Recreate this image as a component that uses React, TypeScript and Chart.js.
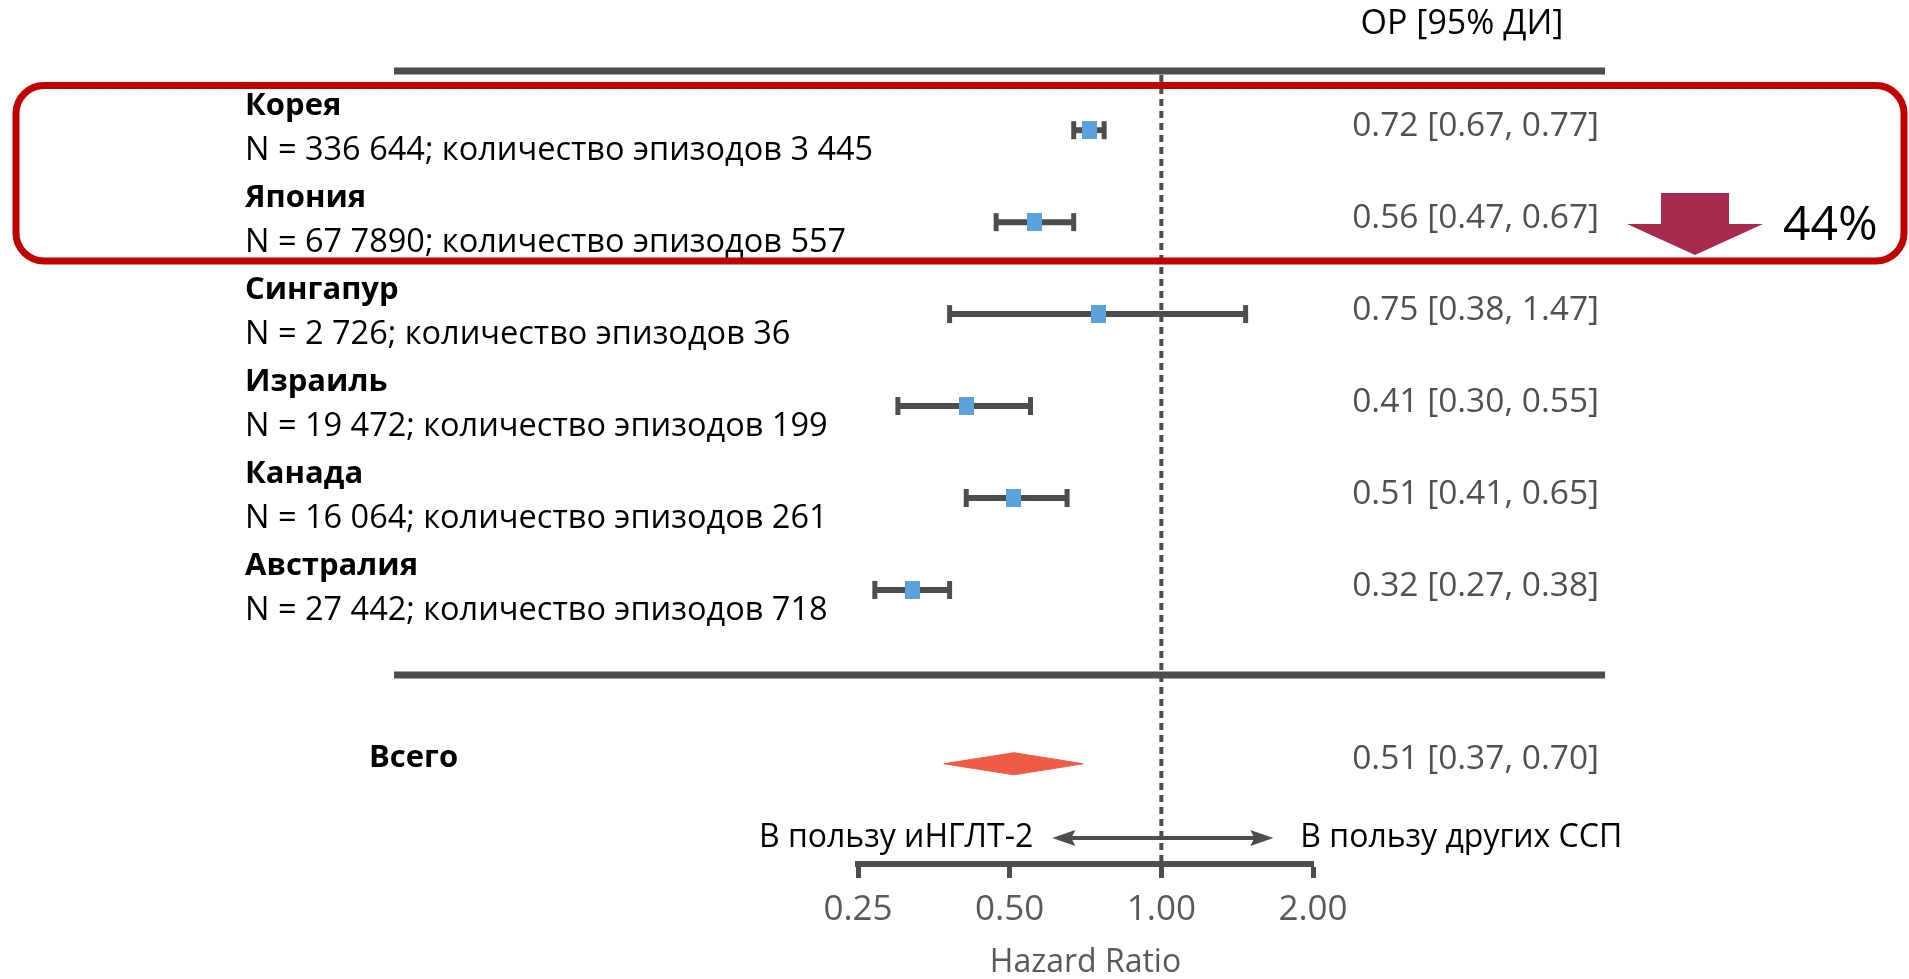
import React, { useEffect, useRef } from 'react';
import { Chart, registerables } from 'chart.js';

Chart.register(...registerables);

// ---- data ----
const countries = ['Корея', 'Япония', 'Сингапур', 'Израиль', 'Канада', 'Австралия'];
const subtitles = [
  'N = 336 644; количество эпизодов 3 445',
  'N = 67 7890; количество эпизодов 557',
  'N = 2 726; количество эпизодов 36',
  'N = 19 472; количество эпизодов 199',
  'N = 16 064; количество эпизодов 261',
  'N = 27 442; количество эпизодов 718',
];
const hr = [0.72, 0.56, 0.75, 0.41, 0.51, 0.32];
const lower = [0.67, 0.47, 0.38, 0.30, 0.41, 0.27];
const upper = [0.77, 0.67, 1.47, 0.55, 0.65, 0.38];
const rowPos = [0, 1, 2, 3, 4, 5];

const totalLabel = 'Всего';
const totalHR = 0.51;
const totalLower = 0.37;
const totalUpper = 0.70;
const totalPos = 6.89;

const xTicks = [0.25, 0.5, 1, 2];
const headerText = 'ОР [95% ДИ]';
const favourLeft = 'В пользу иНГЛТ-2';
const favourRight = 'В пользу других ССП';
const reductionText = '44%';
const axisTitle = 'Hazard Ratio';

const fmt = (v: number) => v.toFixed(2);

const W = 1909;
const H = 979;
const FONT = '"Open Sans", "Noto Sans", sans-serif';
const DARK = '#4d4d4d';

export default function App() {
  const ref = useRef<HTMLCanvasElement | null>(null);

  useEffect(() => {
    const canvas = ref.current;
    if (!canvas) return;

    const marker = document.createElement('canvas');
    marker.width = 15;
    marker.height = 18;
    const mctx = marker.getContext('2d')!;
    mctx.fillStyle = '#5ba3dc';
    mctx.fillRect(0, 0, 15, 18);

    const barSets = countries.map((c, i) => ({
      type: 'line' as const,
      label: c,
      data: [
        { x: lower[i], y: rowPos[i] },
        { x: upper[i], y: rowPos[i] },
      ],
      borderColor: DARK,
      borderWidth: 6,
      pointStyle: 'line' as const,
      rotation: 90,
      pointRadius: 9,
      pointBorderWidth: 5,
      pointBorderColor: DARK,
      pointBackgroundColor: DARK,
      fill: false,
      order: 2,
    }));

    const estimates = {
      type: 'line' as const,
      label: 'HR',
      data: hr.map((v, i) => ({ x: v, y: rowPos[i] })),
      showLine: false,
      pointStyle: marker,
      pointRadius: 9,
      order: 1,
    };

    const dh = 0.12;
    const diamond = {
      type: 'line' as const,
      label: 'total',
      data: [
        { x: totalLower, y: totalPos },
        { x: totalHR, y: totalPos - dh },
        { x: totalUpper, y: totalPos },
        { x: totalHR, y: totalPos + dh },
        { x: totalLower, y: totalPos },
      ],
      borderColor: '#ef5b45',
      backgroundColor: '#ef5b45',
      borderWidth: 1,
      pointRadius: 0,
      fill: 'shape',
      tension: 0,
      order: 3,
    };

    const refLine = {
      type: 'line' as const,
      label: 'ref',
      data: [
        { x: 1, y: -0.6 },
        { x: 1, y: 7.98 },
      ],
      borderColor: DARK,
      borderWidth: 4,
      borderDash: [7, 5],
      pointRadius: 0,
      fill: false,
      order: 4,
    };

    const annotations = {
      id: 'forestText',
      afterDraw(chart: any) {
        const { ctx, scales } = chart;
        const xs = scales.x;
        const ys = scales.y;
        const x1 = xs.getPixelForValue(1);
        ctx.save();

        // header
        ctx.fillStyle = '#000';
        ctx.font = `34px ${FONT}`;
        ctx.textAlign = 'center';
        ctx.textBaseline = 'middle';
        ctx.fillText(headerText, 1462, 24);

        // separators
        ctx.strokeStyle = DARK;
        ctx.lineWidth = 7;
        ctx.lineCap = 'butt';
        ctx.beginPath();
        ctx.moveTo(394, 71);
        ctx.lineTo(1605, 71);
        ctx.moveTo(394, 675);
        ctx.lineTo(1605, 675);
        ctx.stroke();

        // row labels & CI text
        countries.forEach((c, i) => {
          const y = ys.getPixelForValue(rowPos[i]);
          ctx.fillStyle = '#000';
          ctx.textAlign = 'left';
          ctx.font = `bold 31px ${FONT}`;
          ctx.fillText(c, 245, y - 24);
          ctx.font = `32.5px ${FONT}`;
          ctx.fillText(subtitles[i], 245, y + 21);
          ctx.fillStyle = '#505050';
          ctx.textAlign = 'right';
          ctx.font = `33.5px ${FONT}`;
          ctx.fillText(`${fmt(hr[i])} [${fmt(lower[i])}, ${fmt(upper[i])}]`, 1599, y - 4);
        });

        // total
        const ty = ys.getPixelForValue(totalPos);
        ctx.fillStyle = '#000';
        ctx.textAlign = 'left';
        ctx.font = `bold 31px ${FONT}`;
        ctx.fillText(totalLabel, 369, ty - 6);
        ctx.fillStyle = '#505050';
        ctx.textAlign = 'right';
        ctx.font = `33.5px ${FONT}`;
        ctx.fillText(`${fmt(totalHR)} [${fmt(totalLower)}, ${fmt(totalUpper)}]`, 1599, ty - 4);

        // favour arrow row
        const ay = 838;
        ctx.fillStyle = '#000';
        ctx.font = `32px ${FONT}`;
        ctx.textAlign = 'right';
        ctx.fillText(favourLeft, x1 - 128, ay);
        ctx.textAlign = 'left';
        ctx.fillText(favourRight, x1 + 139, ay);
        const lt = x1 - 109;
        const rt = x1 + 112;
        ctx.strokeStyle = DARK;
        ctx.fillStyle = DARK;
        ctx.lineWidth = 4;
        ctx.beginPath();
        ctx.moveTo(lt + 15, ay);
        ctx.lineTo(rt - 15, ay);
        ctx.stroke();
        ctx.beginPath();
        ctx.moveTo(lt, ay);
        ctx.lineTo(lt + 23, ay - 8);
        ctx.lineTo(lt + 19, ay);
        ctx.lineTo(lt + 23, ay + 8);
        ctx.closePath();
        ctx.fill();
        ctx.beginPath();
        ctx.moveTo(rt, ay);
        ctx.lineTo(rt - 23, ay - 8);
        ctx.lineTo(rt - 19, ay);
        ctx.lineTo(rt - 23, ay + 8);
        ctx.closePath();
        ctx.fill();

        // red highlight box
        ctx.strokeStyle = '#c00000';
        ctx.lineWidth = 7;
        ctx.beginPath();
        ctx.roundRect(16, 85.5, 1888, 175.5, 28);
        ctx.stroke();

        // down arrow
        ctx.fillStyle = '#a62b4c';
        ctx.beginPath();
        ctx.moveTo(1661, 193);
        ctx.lineTo(1729, 193);
        ctx.lineTo(1729, 224);
        ctx.lineTo(1763, 224);
        ctx.lineTo(1695, 255);
        ctx.lineTo(1627, 224);
        ctx.lineTo(1661, 224);
        ctx.closePath();
        ctx.fill();

        ctx.fillStyle = '#000';
        ctx.textAlign = 'left';
        ctx.font = `48px ${FONT}`;
        ctx.fillText(reductionText, 1783, 226);

        ctx.restore();
      },
    };

    const chart = new Chart(canvas, {
      type: 'line',
      data: { datasets: [refLine, diamond, ...barSets, estimates] as any },
      options: {
        animation: false,
        responsive: false,
        events: [],
        layout: { padding: { left: 858, right: W - 1313, top: 75, bottom: 0 } },
        plugins: { legend: { display: false }, tooltip: { enabled: false } },
        scales: {
          x: {
            type: 'logarithmic',
            min: 0.25,
            max: 2,
            afterBuildTicks: (s: any) => {
              s.ticks = xTicks.map((v) => ({ value: v }));
            },
            afterFit: (s: any) => {
              s.height = H - 864;
            },
            grid: {
              drawOnChartArea: false,
              drawTicks: true,
              tickLength: 14,
              tickWidth: 5,
              tickColor: DARK,
              color: DARK,
            },
            border: { display: true, color: DARK, width: 6 },
            ticks: {
              autoSkip: false,
              maxRotation: 0,
              padding: 11,
              color: '#58595b',
              font: { family: FONT, size: 35 },
              callback: (v: any) => Number(v).toFixed(2),
            },
            title: {
              display: true,
              text: axisTitle,
              color: '#58595b',
              font: { family: FONT, size: 32, lineHeight: 1 },
              padding: 0,
            },
          },
          y: {
            type: 'linear',
            reverse: true,
            min: -0.6,
            max: 7.98,
            display: false,
          },
        },
      },
      plugins: [annotations],
    });

    return () => chart.destroy();
  }, []);

  return (
    <div style={{ position: 'absolute', left: 0, top: 0, width: W, height: H, background: '#fff' }}>
      <canvas ref={ref} width={W} height={H} style={{ width: W, height: H, display: 'block' }} />
    </div>
  );
}
